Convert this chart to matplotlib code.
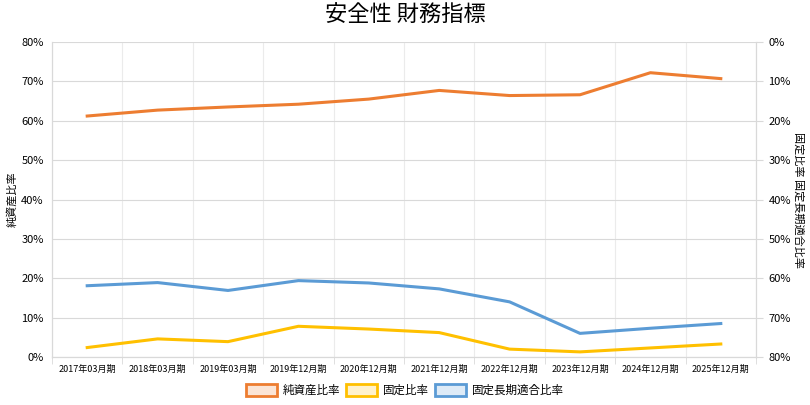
import matplotlib
matplotlib.use('Agg')
import matplotlib.pyplot as plt
from matplotlib.ticker import PercentFormatter, FixedLocator
from matplotlib.patches import Patch

plt.rcParams['font.family'] = ['Noto Sans CJK JP', 'DejaVu Sans']

periods = ['2017年03月期', '2018年03月期', '2019年03月期', '2019年12月期', '2020年12月期',
           '2021年12月期', '2022年12月期', '2023年12月期', '2024年12月期', '2025年12月期']
equity_ratio = [61.2, 62.7, 63.5, 64.2, 65.5, 67.7, 66.4, 66.6, 72.2, 70.7]       # 純資産比率 (left)
fixed_ratio = [77.6, 75.4, 76.1, 72.2, 72.9, 73.8, 78.0, 78.7, 77.7, 76.7]        # 固定比率 (right, inverted)
fixed_lt_ratio = [61.9, 61.1, 63.1, 60.6, 61.2, 62.7, 66.0, 74.0, 72.7, 71.5]     # 固定長期適合比率 (right, inverted)

orange = '#ED7D31'
yellow = '#FFC000'
blue = '#5B9BD5'
grid_c = '#D9D9D9'

fig = plt.figure(figsize=(8.1, 4.05), dpi=100)
ax = fig.add_axes([52 / 810, 1 - 357 / 405, (756 - 52) / 810, (357 - 42) / 405])
ax2 = ax.twinx()

x = list(range(len(periods)))
ax.plot(x, equity_ratio, color=orange, lw=2.2, zorder=3)
ax2.plot(x, fixed_ratio, color=yellow, lw=2.2, zorder=3)
ax2.plot(x, fixed_lt_ratio, color=blue, lw=2.2, zorder=3)

# left axis
ax.set_xlim(-0.5, len(periods) - 0.5)
ax.set_ylim(0, 80)
ax.yaxis.set_major_locator(FixedLocator(range(0, 81, 10)))
ax.yaxis.set_major_formatter(PercentFormatter(decimals=0))
ax.tick_params(axis='y', length=0, labelsize=8, pad=6, colors='#000000')
ax.grid(axis='y', color=grid_c, lw=0.8)

# x axis: labels centred, gridlines/ticks on category boundaries
ax.set_xticks(x)
ax.set_xticklabels(periods, fontsize=6.5)
ax.tick_params(axis='x', which='major', length=0, pad=6)
ax.set_xticks([i - 0.5 for i in range(len(periods) + 1)], minor=True)
ax.tick_params(axis='x', which='minor', length=5, color=grid_c)
ax.grid(axis='x', which='minor', color='#EBEBEB', lw=0.8)
ax.set_axisbelow(True)

# right axis (inverted)
ax2.set_ylim(80, 0)
ax2.yaxis.set_major_locator(FixedLocator(range(0, 81, 10)))
ax2.yaxis.set_major_formatter(PercentFormatter(decimals=0))
ax2.tick_params(axis='y', length=5, color=grid_c, labelsize=8, pad=4)

for a in (ax, ax2):
    a.spines['top'].set_visible(False)
    a.spines['left'].set_color(grid_c)
    a.spines['right'].set_color(grid_c)
    a.spines['bottom'].set_color(grid_c)

ax.set_ylabel('純資産比率', fontsize=8, labelpad=3)
ax2.set_ylabel('固定比率 固定長期適合比率', fontsize=8, rotation=-90, labelpad=9)

fig.suptitle('安全性 財務指標', fontsize=16, y=0.99)

handles = [
    Patch(facecolor='#FBE5D6', edgecolor=orange, lw=2, label='純資産比率'),
    Patch(facecolor='#FFF2CC', edgecolor=yellow, lw=2, label='固定比率'),
    Patch(facecolor='#DEEBF7', edgecolor=blue, lw=2, label='固定長期適合比率'),
]
fig.legend(handles=handles, loc='center', bbox_to_anchor=(0.5, 1 - 390 / 405),
           ncol=3, frameon=False, fontsize=8.3, handlelength=2.7, handleheight=1.2,
           columnspacing=0.5, handletextpad=0.5)

fig.savefig('out.png', dpi=100, facecolor='white')
